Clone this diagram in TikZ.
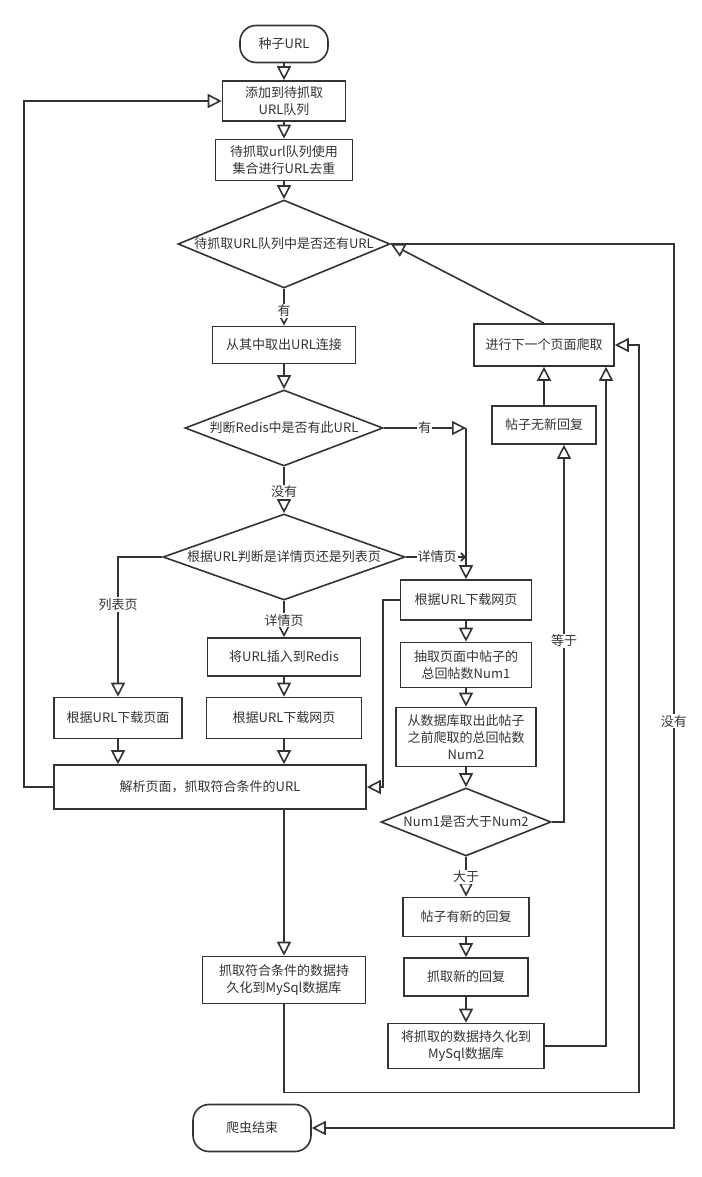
\documentclass[tikz,border=0pt]{standalone}
\usepackage{fontspec}
\setmainfont{Noto Sans CJK SC}
\usetikzlibrary{arrows.meta,calc,shapes.geometric}
\definecolor{lc}{HTML}{333333}
\tikzset{
  proc/.style={draw=lc,line width=1.6pt,align=center,inner sep=2pt},
  term/.style={proc,rounded corners=16pt},
  dec/.style={diamond,draw=lc,line width=1.6pt,inner sep=0pt},
  arr/.style={draw=lc,line width=1.6pt,-{Triangle[open,length=14pt,width=14pt]}},
  lbl/.style={fill=white,inner sep=1pt,text=lc}
}
\begin{document}
\begin{tikzpicture}[x=1pt,y=-1pt,font=\fontsize{13pt}{17pt}\selectfont,text=lc]
\useasboundingbox(0,0)rectangle(701,1177);
\node[term,minimum width=88pt,minimum height=37pt](seed)at(284,44){种子URL};
\node[proc,minimum width=123pt,minimum height=40pt](add)at(284,101){添加到待抓取\\URL队列};
\node[proc,minimum width=137pt,minimum height=41pt](dedup)at(284,160){待抓取url队列使用\\集合进行URL去重};
\node[dec,minimum width=212pt,minimum height=88pt](has)at(284,244){\makebox[0pt]{待抓取URL队列中是否还有URL}};
\node[proc,minimum width=143pt,minimum height=37pt](take)at(284,345){从其中取出URL连接};
\node[dec,minimum width=198pt,minimum height=76pt](redis)at(284,428){\makebox[0pt]{判断Redis中是否有此URL}};
\node[dec,minimum width=242pt,minimum height=86pt](type)at(284,557){\makebox[0pt]{根据URL判断是详情页还是列表页}};
\node[proc,minimum width=153pt,minimum height=38pt](insert)at(284,657){将URL插入到Redis};
\node[proc,minimum width=128pt,minimum height=41pt](dllist)at(118,718){根据URL下载页面};
\node[proc,minimum width=155pt,minimum height=41pt](dldet)at(284,718){根据URL下载网页};
\node[proc,minimum width=312pt,minimum height=44pt](parse)at(210,787){解析页面，抓取符合条件的URL};
\node[proc,minimum width=163pt,minimum height=47pt](persist1)at(284,980){抓取符合条件的数据持\\久化到MySql数据库};
\node[term,minimum width=118pt,minimum height=47pt](end)at(252,1128){爬虫结束};
\node[proc,minimum width=140pt,minimum height=42pt](next)at(544,345){进行下一个页面爬取};
\node[proc,minimum width=104pt,minimum height=38pt](noreply)at(544,425){帖子无新回复};
\node[proc,minimum width=131pt,minimum height=40pt](dl2)at(466,600){根据URL下载网页};
\node[proc,minimum width=131pt,minimum height=45pt](extract)at(466,665){抽取页面中帖子的\\总回帖数Num1};
\node[proc,minimum width=140pt,minimum height=59pt](fetchnum)at(466,737){从数据库取出此帖子\\之前爬取的总回帖数\\Num2};
\node[dec,minimum width=170pt,minimum height=68pt](cmp)at(466,822){\makebox[0pt]{Num1是否大于Num2}};
\node[proc,minimum width=126pt,minimum height=39pt](newreply)at(466,917){帖子有新的回复};
\node[proc,minimum width=124pt,minimum height=38pt](grab)at(466,977){抓取新的回复};
\node[proc,minimum width=156pt,minimum height=45pt](persist2)at(466,1046){将抓取的数据持久化到\\MySql数据库};
\coordinate(c1)at(dl2.north|-redis.east);
\draw[arr](seed)--(add);\draw[arr](add)--(dedup);\draw[arr](dedup)--(has);
\draw[arr](has)--node[lbl,pos=.6]{有}(take);\draw[arr](take)--(redis);
\draw[arr](redis)--node[lbl,pos=.54]{没有}(type);
\draw[arr](redis.east)--node[lbl]{有}(c1);\draw[arr](c1)--(dl2.north);
\draw[draw=lc,line width=1.6pt,-{Straight Barb[length=4pt,width=8pt]}](type.east)--node[lbl,pos=.52]{详情页}(type.east-|dl2.north);
\draw[arr](type.west)-|node[lbl,pos=.67]{列表页}(dllist.north);
\draw[arr](type)--node[lbl,pos=.53]{详情页}(insert);\draw[arr](insert)--(dldet);
\draw[arr](dllist)--(dllist|-parse.north);\draw[arr](dldet)--(dldet|-parse.north);
\draw[arr](parse.west)--++(-29,0)|-(add.west);
\draw[arr](dl2.west)--++(-17,0)|-(parse.east);
\draw[arr](parse.south-|persist1)--(persist1);
\draw[arr](persist1.south)--++(0,88)-|([xshift=24pt]next.east)--(next.east);
\draw[arr](persist2.east)-|([xshift=62pt]next.south);
\draw[arr](cmp.east)-|node[lbl,pos=.74]{等于}([xshift=20pt]noreply.south);
\draw[arr](noreply)--(next);\draw[arr](next.north)--(has.east);
\draw[arr](has.east)--++(283,0)|-node[lbl,pos=.27]{没有}(end.east);
\draw[arr](dl2)--(extract);\draw[arr](extract)--(fetchnum);\draw[arr](fetchnum)--(cmp);
\draw[arr](cmp)--node[lbl]{大于}(newreply);\draw[arr](newreply)--(grab);\draw[arr](grab)--(persist2);
\end{tikzpicture}
\end{document}
